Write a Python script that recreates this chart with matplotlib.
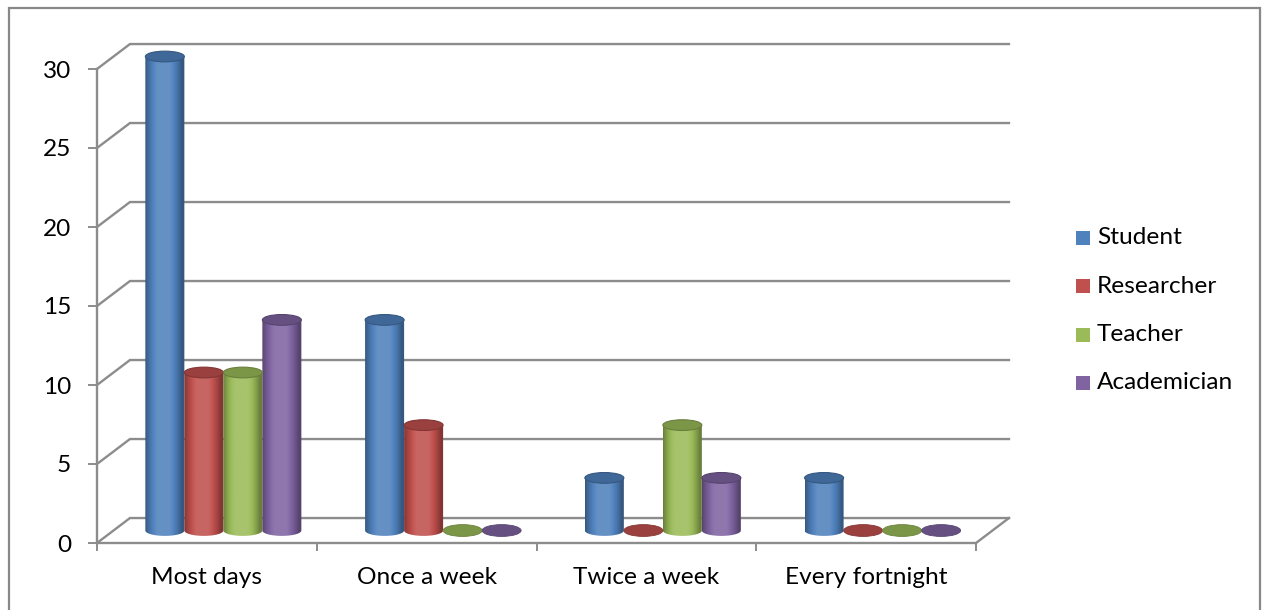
import numpy as np
import matplotlib
matplotlib.use("Agg")
import matplotlib.pyplot as plt
from matplotlib.patches import Ellipse, Polygon, Rectangle
from matplotlib.colors import to_rgb

# ---- data (percent of respondents) ----
categories = ["Most days", "Once a week", "Twice a week", "Every fortnight"]
series = ["Student", "Researcher", "Teacher", "Academician"]
student = [30.0, 13.33, 3.33, 3.33]
researcher = [10.0, 6.67, 0.0, 0.0]
teacher = [10.0, 0.0, 6.67, 0.0]
academician = [13.33, 0.0, 3.33, 0.0]
values = [student, researcher, teacher, academician]
colors = ["#4F81BD", "#C0504D", "#9BBB59", "#8064A2"]
yticks = [0, 5, 10, 15, 20, 25, 30]

FONT = "Lato"
FS = 17.6
GRID = "#8c8c8c"

W, H, DPI = 1266, 610, 100
fig = plt.figure(figsize=(W / DPI, H / DPI), dpi=DPI)

# front plane: 0..4 categories, 0..30 values; extra room for the 3D depth
px_per_cat = 219.75
px_per_val = 15.8
xmax, ymax = 4.25, 33.0
ax = fig.add_axes([97 / W, (H - 543) / H, xmax * px_per_cat / W, ymax * px_per_val / H])
ax.set_xlim(0, xmax)
ax.set_ylim(0, ymax)
ax.set_facecolor("none")

# depth offset of the back wall (category units, value units)
DX, DY = 0.15, 1.58
ncat = len(categories)

# back wall gridlines and side wall diagonals
for v in yticks:
    ax.plot([0, DX, ncat + DX], [v, v + DY, v + DY], color=GRID, lw=1.7,
            solid_joinstyle="miter", clip_on=False, zorder=1)
# right edge of the floor
ax.plot([ncat, ncat + DX], [0, DY], color=GRID, lw=1.7, clip_on=False, zorder=1)

# axes spines
for s in ["top", "right"]:
    ax.spines[s].set_visible(False)
ax.spines["left"].set_bounds(0, 30)
ax.spines["bottom"].set_bounds(0, ncat)
for s in ["left", "bottom"]:
    ax.spines[s].set_color(GRID)
    ax.spines[s].set_linewidth(1.7)
    ax.spines[s].set_zorder(2)

ax.set_yticks(yticks)
ax.set_yticklabels([str(t) for t in yticks], fontsize=FS, family=FONT)
ax.tick_params(axis="y", length=6.5, width=1.4, color=GRID, pad=12)
ax.set_xticks(np.arange(ncat + 1))
ax.set_xticklabels([])
ax.set_xticks(np.arange(ncat) + 0.5, minor=True)
ax.set_xticklabels(categories, minor=True, fontsize=FS, family=FONT)
ax.tick_params(axis="x", which="major", length=6, width=1.4, color=GRID)
ax.tick_params(axis="x", which="minor", length=0, pad=17)


def shade(c, k):
    c = np.array(to_rgb(c))
    if k <= 1:
        return c * k
    return c + (1 - c) * (k - 1)


# cylinders
nser = len(series)
bw = 0.1775            # bar width in category units
r = bw / 2
eh = 0.68              # ellipse height in value units
base = DY / 2
tt = np.linspace(0, 1, 64)
prof = 0.68 + 0.5 * np.sin(np.pi * np.clip(tt * 1.08, 0, 1)) ** 0.9
for j in range(nser):
    col = colors[j]
    grad = np.array([shade(col, min(k, 1.12)) for k in prof])[None, :, :]
    for i in range(ncat):
        v = values[j][i]
        xc = i + 0.5 + DX / 2 + (j - (nser - 1) / 2) * bw
        top = base + v
        if v > 0:
            th = np.linspace(np.pi, 2 * np.pi, 40)
            arc = np.column_stack([xc + r * np.cos(th), base + eh / 2 * np.sin(th)])
            pts = np.vstack([[xc - r, top], arc, [xc + r, top]])
            body = Polygon(pts, closed=True, facecolor="none", edgecolor="none")
            ax.add_patch(body)
            im = ax.imshow(grad, extent=(xc - r, xc + r, base - eh, top),
                           aspect="auto", interpolation="bilinear", zorder=3)
            im.set_clip_path(body)
            ax.add_patch(Ellipse((xc, top), 2 * r, eh, facecolor=shade(col, 0.8),
                                 edgecolor=shade(col, 0.68), lw=0.8, zorder=4))
        else:
            ax.add_patch(Ellipse((xc, base), 2 * r, eh * 1.1, facecolor=shade(col, 0.8),
                                 edgecolor=shade(col, 0.7), lw=0.6, zorder=4))

ax.set_xlim(0, xmax)
ax.set_ylim(0, ymax)

# legend
for j, name in enumerate(series):
    yc = 238 + j * 48.3
    fig.add_artist(Rectangle((1076 / W, (H - yc - 7) / H), 14 / W, 14 / H,
                             facecolor=colors[j], edgecolor="none",
                             transform=fig.transFigure))
    fig.text(1097 / W, (H - yc) / H, name, fontsize=FS, family=FONT,
             va="center", ha="left")

# chart frame
fig.add_artist(Rectangle((8.5 / W, -0.05), (1260 - 8.5) / W, (H - 7.5) / H + 0.05,
                         facecolor="none", edgecolor="#888888", lw=1.6,
                         transform=fig.transFigure))

fig.savefig("out.png", dpi=DPI, facecolor="white")
